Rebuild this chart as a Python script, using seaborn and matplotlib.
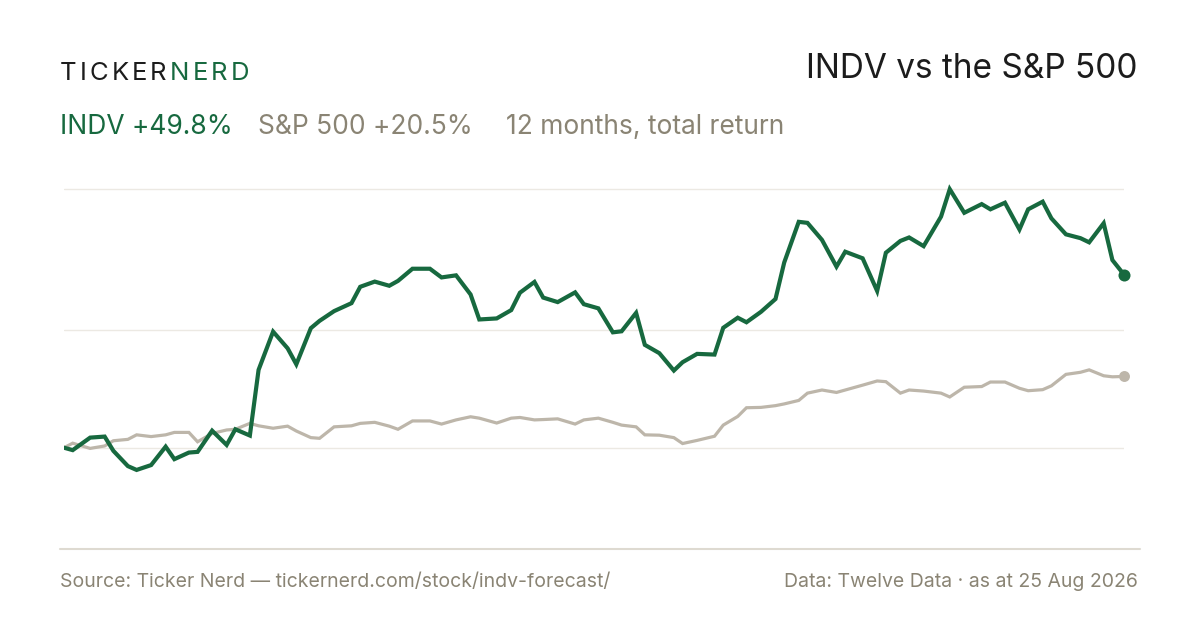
import matplotlib
matplotlib.use("Agg")
import matplotlib.pyplot as plt
from matplotlib.lines import Line2D
from matplotlib.textpath import TextPath
from matplotlib.font_manager import FontProperties
import seaborn as sns
import pandas as pd

# ---- data ----
START = "2025-08-25"
END = "2026-08-25"
HOLIDAYS = ["2025-09-01", "2025-11-27", "2025-12-25", "2026-01-01", "2026-01-19",
            "2026-02-16", "2026-04-03", "2026-05-25", "2026-06-19", "2026-07-03"]

indv_ret = [0.0, -0.7, 2.9, 3.2, -0.9, -5.3, -6.4, -5.0, 0.3, -3.3,
            -1.4, -1.2, 4.9, 0.8, 5.3, 3.5, 22.4, 33.4, 28.6, 24.0,
            34.4, 36.5, 39.3, 41.6, 46.3, 47.8, 46.6, 48.0, 51.5, 51.5,
            49.0, 49.6, 44.1, 36.9, 37.2, 39.6, 44.6, 47.7, 43.2, 41.9,
            44.7, 41.3, 40.1, 33.2, 33.5, 38.8, 29.6, 27.2, 22.2, 24.6,
            27.0, 26.8, 34.5, 37.4, 36.1, 39.1, 42.8, 53.3, 65.0, 64.7,
            59.8, 52.1, 56.4, 54.5, 45.1, 56.1, 59.5, 60.5, 58.0, 66.5,
            74.4, 67.6, 70.1, 68.6, 70.5, 62.8, 68.6, 70.8, 66.0, 61.4,
            60.3, 59.1, 64.6, 54.0, 49.8]

spx_ret = [0.0, 1.3, -0.2, 0.5, 2.0, 2.4, 3.7, 3.2, 3.7, 4.4,
           4.4, 1.7, 4.1, 5.1, 5.3, 7.0, 6.3, 5.6, 6.2, 4.8,
           2.9, 2.7, 6.0, 6.3, 7.0, 7.3, 6.2, 5.3, 7.7, 7.7,
           6.8, 8.0, 8.9, 8.5, 7.1, 8.5, 8.7, 8.0, 8.1, 8.3,
           6.8, 8.0, 8.5, 7.3, 6.5, 6.0, 3.7, 3.6, 2.9, 1.2,
           2.1, 3.3, 6.5, 9.0, 11.5, 11.6, 12.1, 12.6, 13.6, 15.7,
           16.6, 15.9, 16.6, 18.0, 19.2, 19.0, 15.7, 16.6, 16.3, 15.7,
           14.6, 17.4, 17.6, 18.9, 18.9, 17.1, 16.4, 16.7, 17.8, 21.1,
           21.7, 22.4, 20.7, 20.4, 20.5]

grid_values = [0.0, 33.9, 74.4]

title = "INDV vs the S&P 500"
brand_a, brand_b = "TICKER", "NERD"
summary = ["INDV +49.8%", "S&P 500 +20.5%", "12 months, total return"]
footer_left = "Source: Ticker Nerd \u2014 tickernerd.com/stock/indv-forecast/"
footer_right = "Data: Twelve Data \u00b7 as at 25 Aug 2026"

# ---- styling ----
GREEN = "#17693f"
GREY_LINE = "#bdb6aa"
MUTED = "#8a8474"
DARK = "#1c1c1c"
GRID = "#ece9e3"
BASE = "#dedad1"

sns.set_theme(style="white")
plt.rcParams["font.family"] = ["Inter", "DejaVu Sans"]

# trading-day calendar, every 3rd session plus the last one
sessions = pd.bdate_range(START, END, freq="C", holidays=HOLIDAYS)
idx = list(range(0, len(sessions), 3))
if idx[-1] != len(sessions) - 1:
    idx.append(len(sessions) - 1)
dates = sessions[idx]

df = pd.DataFrame({
    "date": list(dates) * 2,
    "ret": indv_ret + spx_ret,
    "series": ["INDV"] * len(dates) + ["S&P 500"] * len(dates),
})

W, H = 1200, 630
fig = plt.figure(figsize=(12, 6.3), dpi=100)
fig.patch.set_facecolor("white")

def fx(px):
    return px / W

def fy(py):
    return 1 - py / H

zero_px, px_per_pct = 447.7, 3.475
top_px, bot_px = 170, 548
ax = fig.add_axes([fx(64), fy(bot_px), fx(1124) - fx(64), (bot_px - top_px) / H])
ax.set_facecolor("none")

for g in grid_values:
    ax.axhline(g, color=GRID, lw=1.0, zorder=0)

sns.lineplot(data=df[df.series == "S&P 500"], x="date", y="ret", color=GREY_LINE,
             lw=2.3, ax=ax, legend=False, zorder=2)
sns.lineplot(data=df[df.series == "INDV"], x="date", y="ret", color=GREEN,
             lw=3.0, ax=ax, legend=False, zorder=3)
for ln in ax.lines:
    ln.set_solid_joinstyle("miter")

ax.scatter([dates[-1]], [spx_ret[-1]], s=62, color=GREY_LINE, zorder=4, clip_on=False, linewidths=0)
ax.scatter([dates[-1]], [indv_ret[-1]], s=75, color=GREEN, zorder=5, clip_on=False, linewidths=0)

ax.set_xlim(dates[0], dates[-1])
ax.set_ylim((zero_px - bot_px) / px_per_pct, (zero_px - top_px) / px_per_pct)
ax.axis("off")

# baseline rule
fig.add_artist(Line2D([fx(60), fx(1140)], [fy(549), fy(549)], color=BASE, lw=1.5))


def spaced_text(x_px, y_px, s, size, color, spacing_px):
    """Draw letter-spaced text starting at pixel x, baseline pixel y."""
    fp = FontProperties(family=["Inter", "DejaVu Sans"], size=size)
    x = x_px
    for ch in s:
        fig.text(fx(x), fy(y_px), ch, fontproperties=fp, color=color,
                 va="baseline", ha="left")
        adv = TextPath((0, 0), ch, prop=fp).get_extents().width if ch != " " else size * 0.28
        # advance width: use glyph extents in points -> pixels, plus side bearings approx
        tp = TextPath((0, 0), ch + "|", prop=fp)
        bar = TextPath((0, 0), "|", prop=fp)
        adv = tp.vertices[:, 0].max() - bar.vertices[:, 0].max()
        x += adv * 100 / 72 + spacing_px
    return x


# header
spaced_text(60, 80, brand_a, 18.5, DARK, 3.0)
spaced_text(170, 80, brand_b, 18.5, GREEN, 3.0)
fig.text(fx(1137), fy(78), title, color=DARK, fontsize=24, va="baseline", ha="right")

fig.text(fx(60), fy(134), summary[0], color=GREEN, fontsize=19, va="baseline", ha="left")
fig.text(fx(258), fy(134), summary[1], color=MUTED, fontsize=19, va="baseline", ha="left")
fig.text(fx(506), fy(134), summary[2], color=MUTED, fontsize=19, va="baseline", ha="left")

# footer
fig.text(fx(60), fy(587), footer_left, color=MUTED, fontsize=14, va="baseline", ha="left")
fig.text(fx(1138), fy(587), footer_right, color=MUTED, fontsize=14, va="baseline", ha="right")

fig.savefig("out.png", dpi=100, facecolor="white")
